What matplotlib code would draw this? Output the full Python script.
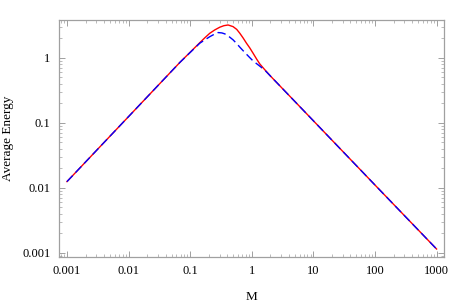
import matplotlib
matplotlib.use("Agg")
import matplotlib.pyplot as plt
from matplotlib.ticker import FixedLocator, FixedFormatter, LogLocator, NullFormatter

# --- data ---
red_M = [0.001, 0.01, 0.0681, 0.1435, 0.173, 0.208, 0.251, 0.303, 0.352, 0.413,
         0.497, 0.570, 0.640, 0.723, 0.820, 0.929, 1.05, 1.20, 1.35, 1.62, 2.0,
         10, 100, 1000]
red_E = [0.0124, 0.124, 0.845, 1.70, 2.02, 2.37, 2.67, 2.94, 3.10, 3.18,
         3.00, 2.72, 2.37, 2.01, 1.67, 1.41, 1.17, 0.95, 0.80, 0.655, 0.524,
         0.107, 0.0110, 0.00114]

blue_M = [0.001, 0.01, 0.0681, 0.1435, 0.208, 0.242, 0.284, 0.327, 0.365, 0.424,
          0.497, 0.571, 0.640, 0.723, 0.820, 0.929, 1.05, 1.35, 1.62, 2.0,
          10, 100, 1000]
blue_E = [0.0124, 0.124, 0.845, 1.67, 2.10, 2.27, 2.43, 2.40, 2.32, 2.12,
          1.88, 1.64, 1.45, 1.28, 1.13, 1.00, 0.89, 0.74, 0.645, 0.524,
          0.107, 0.0110, 0.00114]

x_ticks = [0.001, 0.01, 0.1, 1, 10, 100, 1000]
x_labels = ["0.001", "0.01", "0.1", "1", "10", "100", "1000"]
y_ticks = [0.001, 0.01, 0.1, 1]
y_labels = ["0.001", "0.01", "0.1", "1"]

plt.rcParams['font.family'] = ['Liberation Serif', 'DejaVu Serif']

fig = plt.figure(figsize=(4.5, 3.02), dpi=100)
ax = fig.add_axes([0.131, 0.149, 0.856, 0.785])

ax.plot(red_M, red_E, color=(1, 0, 0), lw=1.0, zorder=2)
ax.plot(blue_M, blue_E, color=(0, 0, 1), lw=1.0, dashes=(6, 3), zorder=3)

ax.set_xscale('log')
ax.set_yscale('log')
ax.set_xlim(10 ** -3.13, 10 ** 3.123)
ax.set_ylim(10 ** -3.066, 10 ** 0.58)

ax.xaxis.set_major_locator(FixedLocator(x_ticks))
ax.xaxis.set_major_formatter(FixedFormatter(x_labels))
ax.yaxis.set_major_locator(FixedLocator(y_ticks))
ax.yaxis.set_major_formatter(FixedFormatter(y_labels))
ax.xaxis.set_minor_locator(LogLocator(base=10, subs=range(2, 10), numticks=20))
ax.yaxis.set_minor_locator(LogLocator(base=10, subs=range(2, 10), numticks=20))
ax.xaxis.set_minor_formatter(NullFormatter())
ax.yaxis.set_minor_formatter(NullFormatter())

frame_col = '#a0a0a0'
for s in ax.spines.values():
    s.set_color(frame_col)
    s.set_linewidth(0.9)
ax.tick_params(which='both', direction='in', top=True, right=True, color=frame_col,
               labelsize=9, labelcolor='black')
ax.tick_params(which='major', length=4, width=0.7, pad=6)
ax.tick_params(which='minor', length=2, width=0.5)

ax.set_xlabel('M', fontsize=9.5, labelpad=10)
ax.set_ylabel('Average Energy', fontsize=9.5, labelpad=6)

fig.savefig('out.png', dpi=100)
